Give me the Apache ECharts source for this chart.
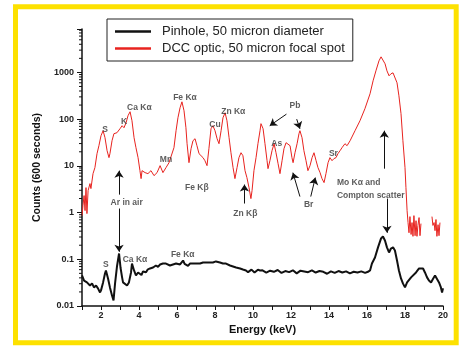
<!DOCTYPE html>
<html>
<head>
<meta charset="utf-8">
<script src="https://cdn.jsdelivr.net/npm/echarts/dist/echarts.min.js"></script>
<style>
  html, body { margin: 0; padding: 0; background: #fff; }
  #chart { width: 464px; height: 347px; }
</style>
</head>
<body>
<div id="chart"></div>
<script>
// DCC optic spectrum (red), energy in keV and counts
const redX = [
  1.00,1.05,1.11,1.16,1.21,1.26,1.32,1.42,1.47,1.58,
  1.68,1.79,1.89,2.00,2.11,2.21,2.32,2.42,2.47,2.58,
  2.68,2.84,3.00,3.11,3.21,3.32,3.42,3.53,3.63,3.74,
  3.84,3.95,4.05,4.11,4.16,4.32,4.47,4.63,4.79,4.95,
  5.11,5.26,5.42,5.58,5.68,5.84,5.95,6.05,6.16,6.26,
  6.37,6.47,6.53,6.63,6.74,6.84,6.95,7.05,7.16,7.26,
  7.37,7.47,7.58,7.68,7.79,7.89,8.00,8.11,8.21,8.32,
  8.42,8.53,8.63,8.74,8.84,8.95,9.05,9.16,9.26,9.37,
  9.47,9.58,9.68,9.79,9.89,9.95,10.05,10.16,10.26,10.37,
  10.42,10.53,10.63,10.74,10.79,10.89,11.00,11.11,11.21,11.32,
  11.42,11.53,11.63,11.74,11.84,11.95,12.05,12.11,12.21,12.32,
  12.42,12.47,12.58,12.68,12.79,12.89,13.00,13.11,13.21,13.32,
  13.42,13.53,13.63,13.74,13.84,13.95,14.05,14.16,14.26,14.37,
  14.47,14.58,14.70,14.84,14.95,15.11,15.37,15.63,15.89,16.16,
  16.32,16.47,16.63,16.74,16.84,16.95,17.05,17.16,17.26,17.37,
  17.47,17.58,17.68,17.79,17.89,18.00,18.05,18.11,18.16,18.21,
  18.26,18.32,18.37,18.42,18.47,18.53,18.58,18.63,18.68,18.74,
  18.79,18.84,19.10,19.42,19.47,19.53,19.58,19.63,19.68,19.74,
  19.79,19.84
];
const redY = [
  0.86,1.41,2.31,1.10,3.42,0.95,2.95,4.17,3.26,6.81,
  9.16,18.2,27.0,44.2,56.5,40.1,21.1,15.0,18.2,34.5,
  48.8,51.2,62.4,72.3,65.5,83.8,118,144,92.4,40.1,
  24.5,15.0,7.89,5.33,7.89,7.16,6.81,7.89,6.17,7.16,
  10.1,7.16,9.16,11.7,12.9,24.5,56.5,107,175,235,
  151,65.5,29.8,11.7,23.3,34.5,38.1,27.0,18.2,19.1,
  15.0,12.9,10.1,23.3,62.4,72.3,56.5,38.1,29.8,56.5,
  107,137,92.4,40.1,19.1,9.16,5.33,9.16,15.0,19.1,
  16.5,7.89,5.60,3.42,1.99,2.95,7.89,15.0,29.8,56.5,
  80,62.4,29.8,12.9,8.71,12.9,21.1,29.8,19.1,11.1,
  6.81,12.9,23.3,31.3,34.5,27.0,15.0,11.7,19.1,29.8,
  48.8,56.5,40.1,21.1,12.9,7.89,10.1,15.0,19.1,12.9,
  9.16,7.16,5.33,4.38,6.81,11.7,15.0,12.9,14.3,15.0,
  18.2,21.1,25.0,29.8,27.0,34.5,56.5,92.4,167,349,
  662,1082,1770,2155,1953,1530,1082,846,934,980,
  934,600,316,131,34.5,9.16,3.42,1.10,0.61,0.37,
  0.82,0.34,0.61,0.31,0.86,0.32,0.67,0.31,0.53,0.78,
  0.32,0.58,null,0.82,0.53,0.61,0.41,0.71,0.31,0.55,
  0.32,0.61
];

// pinhole spectrum (black)
const blackX = [
  1.00,1.11,1.26,1.42,1.53,1.63,1.74,1.84,1.95,2.00,
  2.11,2.21,2.26,2.37,2.47,2.58,2.66,2.74,2.84,2.95,
  3.03,3.11,3.16,3.26,3.37,3.47,3.58,3.63,3.74,3.84,
  3.95,4.05,4.13,4.21,4.30,4.37,4.45,4.58,4.66,4.74,
  4.82,4.89,5.00,5.11,5.18,5.26,5.34,5.42,5.52,5.63,
  5.72,5.79,5.87,5.95,6.05,6.16,6.24,6.32,6.40,6.47,
  6.58,6.68,6.76,6.84,6.92,7.00,7.10,7.21,7.30,7.37,
  7.45,7.53,7.63,7.74,7.82,7.89,7.97,8.05,8.15,8.26,
  8.34,8.42,8.50,8.58,8.68,8.79,8.87,8.95,9.03,9.11,
  9.21,9.32,9.40,9.47,9.55,9.63,9.74,9.84,9.92,10.00,
  10.08,10.16,10.26,10.37,10.5,10.7,10.9,11.1,11.3,11.5,
  11.7,11.9,12.1,12.3,12.5,12.7,12.9,13.1,13.3,13.5,
  13.7,13.9,14.1,14.3,14.5,14.7,14.9,15.1,15.3,15.5,
  15.7,15.9,16.05,16.16,16.26,16.42,16.58,16.74,16.84,16.95,
  17.05,17.16,17.26,17.37,17.47,17.58,17.68,17.79,17.89,18.00,
  18.11,18.21,18.32,18.42,18.58,18.74,18.84,18.95,19.05,19.16,
  19.26,19.37,19.47,19.58,19.68,19.79,19.89,19.95,20.00
];
const blackY = [
  0.045,0.035,0.032,0.0275,0.0305,0.025,0.0275,0.0238,0.0195,0.0216,
  0.032,0.0497,0.0577,0.0389,0.025,0.0168,0.0132,0.0305,0.07,0.133,
  0.065,0.041,0.032,0.035,0.0275,0.032,0.0522,0.081,0.0577,0.045,
  0.0522,0.0497,0.046,0.0549,0.058,0.053,0.060,0.0636,0.058,0.0668,
  0.062,0.0737,0.069,0.0774,0.072,0.081,0.075,0.081,0.077,0.0737,
  0.079,0.0774,0.072,0.081,0.077,0.0774,0.083,0.094,0.080,0.0774,
  0.072,0.081,0.077,0.081,0.084,0.081,0.077,0.081,0.087,0.0855,
  0.081,0.0855,0.090,0.0855,0.081,0.0855,0.088,0.09,0.083,0.0855,
  0.080,0.081,0.085,0.081,0.076,0.0737,0.078,0.0702,0.066,0.0668,
  0.070,0.0636,0.060,0.0605,0.064,0.0577,0.053,0.0549,0.060,0.0577,
  0.052,0.0522,0.060,0.0577,0.058,0.052,0.057,0.054,0.059,0.051,
  0.056,0.053,0.058,0.050,0.057,0.055,0.053,0.058,0.052,0.056,
  0.054,0.049,0.055,0.051,0.056,0.052,0.055,0.050,0.054,0.052,
  0.055,0.051,0.054,0.0577,0.081,0.109,0.18,0.28,0.31,0.25,
  0.18,0.14,0.17,0.18,0.154,0.094,0.0577,0.0389,0.0305,0.025,
  0.032,0.035,0.041,0.045,0.0522,0.0636,0.0668,0.0636,0.0522,0.041,
  0.035,0.032,0.038,0.045,0.041,0.032,0.025,0.0195,0.024
];

const seriesNames = ['Pinhole, 50 micron diameter', 'DCC optic, 50 micron focal spot'];

// peak labels (energy, counts)
const noteText = ['S','K','Ca Kα','Fe Kα','Mn','Cu','Zn Kα','Fe Kβ','Pb','As','Sr','Br','Zn Kβ',
  'Mo Kα and','Compton scatter','Ar in air','S','Ca Kα','Fe Kα'];
const noteX = [2.21,3.21,4.02,6.42,5.42,8.0,8.96,7.04,12.21,11.25,14.23,12.93,9.6,
  14.42,14.42,3.35,2.25,3.79,6.3];
const noteY = [59,89,178,291,13.4,75.9,146,3.37,193,30.3,18.5,1.46,0.966,
  4.44,2.31,1.61,0.076,0.1,0.127];
const noteAlign = ['center','center','center','center','center','center','center','center','center',
  'center','center','center','center','left','left','center','center','center','center'];

// arrows: tail -> head
const arrowFrom = [[2.95,2.42],[2.95,1.22],[9.55,1.56],[11.76,128],[12.30,100],[12.47,2.2],[13.04,2.2],[16.91,8.7],[17.05,1.99]];
const arrowTo   = [[2.95,7.9],[2.95,0.145],[9.55,3.97],[10.88,72.3],[12.47,62],[12.1,7.16],[13.28,5.6],[16.91,56.5],[17.05,0.37]];

const yTickLabels = ['0.01','0.1','1','10','100','1000'];
const minorTicks = [];
[0.01, 0.1, 1, 10, 100, 1000].forEach(d => {
  for (let k = 2; k <= 9; k++) if (d * k <= 8500) minorTicks.push(d * k);
});

const chart = echarts.init(document.getElementById('chart'), null, { renderer: 'canvas' });
const font = '"Liberation Sans", Arial, sans-serif';

chart.setOption({
  animation: false,
  backgroundColor: '#fff',
  grid: { left: 82, right: 21, top: 29, bottom: 41, containLabel: false },
  legend: {
    orient: 'vertical',
    left: 107, top: 19,
    padding: [6, 8, 6, 8],
    itemGap: 4,
    itemWidth: 36, itemHeight: 2.5,
    borderColor: '#222', borderWidth: 1,
    backgroundColor: '#fff',
    textStyle: { fontFamily: font, fontSize: 13, color: '#222', padding: [0, 0, 0, 6] },
    data: [
      { name: seriesNames[0], icon: 'rect', itemStyle: { color: '#111' } },
      { name: seriesNames[1], icon: 'rect', itemStyle: { color: '#e8231f' } }
    ]
  },
  xAxis: {
    type: 'value', min: 1, max: 20, interval: 1,
    name: 'Energy (keV)', nameLocation: 'middle', nameGap: 15,
    nameTextStyle: { fontFamily: font, fontSize: 11, fontWeight: 'bold', color: '#111' },
    axisLine: { lineStyle: { color: '#111', width: 1.5 } },
    axisTick: { length: 4, lineStyle: { color: '#111' } },
    axisLabel: {
      margin: 5, fontFamily: font, fontSize: 9, fontWeight: 'bold', color: '#222',
      formatter: v => (v % 2 === 0 ? String(v) : '')
    },
    splitLine: { show: false }
  },
  yAxis: {
    type: 'log', logBase: 10, min: 0.01, max: 8500,
    name: 'Counts (600 seconds)', nameLocation: 'middle', nameGap: 34, nameRotate: 90,
    nameTextStyle: { fontFamily: font, fontSize: 10.5, fontWeight: 'bold', color: '#111' },
    axisLine: { show: true, lineStyle: { color: '#111', width: 1.5 } },
    axisTick: { length: 5, lineStyle: { color: '#111' } },
    axisLabel: {
      margin: 8, fontFamily: font, fontSize: 9, fontWeight: 'bold', color: '#222',
      formatter: v => {
        const s = String(parseFloat(Number(v).toPrecision(3)));
        return yTickLabels.indexOf(s) >= 0 ? s : '';
      }
    },
    splitLine: { show: false }
  },
  graphic: [{
    type: 'rect', z: -1, silent: true,
    shape: { x: 15.5, y: 6.75, width: 440.7, height: 336 },
    style: { fill: 'transparent', stroke: '#fde100', lineWidth: 5 }
  }],
  series: [
    {
      name: seriesNames[1], type: 'line', symbol: 'none', z: 3,
      data: redX.map((x, i) => [x, redY[i] == null ? '-' : redY[i]]),
      lineStyle: { color: '#e8231f', width: 1 },
      itemStyle: { color: '#e8231f' }
    },
    {
      name: seriesNames[0], type: 'line', symbol: 'none', z: 4,
      data: blackX.map((x, i) => [x, blackY[i]]),
      lineStyle: { color: '#111', width: 2 },
      itemStyle: { color: '#111' }
    },
    {
      name: 'notes', type: 'scatter', symbolSize: 0, silent: true, z: 6,
      data: noteText.map((t, i) => ({
        value: [noteX[i], noteY[i]],
        label: { formatter: t, align: noteAlign[i] }
      })),
      label: {
        show: true, position: 'inside', fontFamily: font, fontSize: 8.5,
        fontWeight: 'bold', color: '#333'
      },
      markLine: {
        silent: true, symbol: ['none', 'arrow'], symbolSize: 7,
        label: { show: false },
        lineStyle: { color: '#111', width: 1, type: 'solid' },
        itemStyle: { color: '#111' },
        data: arrowFrom.map((f, i) => [{ coord: f }, { coord: arrowTo[i] }])
      }
    },
    {
      name: 'minor', type: 'custom', silent: true, z: 5,
      data: minorTicks.map(v => [1, v]),
      renderItem: (params, api) => {
        const p = api.coord([1, api.value(1)]);
        return {
          type: 'line',
          shape: { x1: p[0] - 3, y1: p[1], x2: p[0], y2: p[1] },
          style: { stroke: '#111', lineWidth: 1 }
        };
      }
    }
  ]
});
</script>
</body>
</html>
